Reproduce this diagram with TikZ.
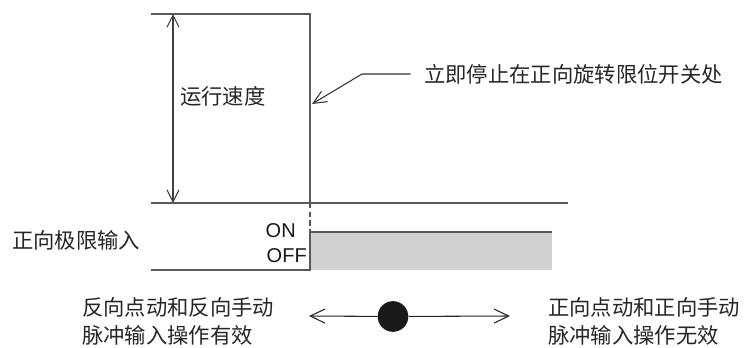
\documentclass[tikz,border=0pt]{standalone}
\usepackage{fontspec}
\setmainfont{Liberation Sans}
\newfontfamily\cjk{Noto Sans CJK SC}
\usetikzlibrary{arrows.meta, positioning, calc}

\begin{document}
\begin{tikzpicture}[x=0.75pt, y=-0.75pt,
    frame/.style={draw=black!65, line width=1.1pt},
    lbl/.style={font=\cjk\fontsize{16}{21}\selectfont, text=black!85, inner sep=0pt, align=left},
    state/.style={font=\fontsize{15}{18}\selectfont, text=black!90, inner sep=0pt},
    dimarr/.style={{Straight Barb[length=9pt,width=9pt]}-{Straight Barb[length=9pt,width=9pt]}, draw=black!75, line width=0.8pt},
    arr/.style={-{Straight Barb[length=10pt,width=9pt]}, draw=black!80, line width=0.8pt},
    dirarr/.style={-{Straight Barb[length=11pt,width=10.5pt]}, draw=black!85, line width=0.8pt}
]
\useasboundingbox (0,0) rectangle (744,347);

% speed profile
\coordinate (tl) at (151,14);
\coordinate (tr) at (310,14);
\coordinate (ml) at (151,203);
\coordinate (mr) at (568,203);
\coordinate (sw) at (310,203);
\draw[frame] (tl) -- (tr) -- (sw);
\draw[frame] (ml) -- (mr);
\coordinate (va) at (173,14);
\coordinate (vb) at (173,203);
\draw[dimarr] (va) -- (vb);
\node[lbl, anchor=west] (speed) at (180,96) {运行速度};

% stop note
\node[lbl, anchor=west] (note) at (424,74) {立即停止在正向旋转限位开关处};
\coordinate (bend) at (362,74);
\coordinate (hit) at (312,104);
\draw[arr] ([xshift=-10pt]note.west) -- (bend) -- (hit);

% limit input
\coordinate (on) at (310,232);
\coordinate (onr) at (552,232);
\coordinate (offl) at (151,270);
\coordinate (offr) at (310,270);
\coordinate (gr) at (552,270);
\fill[black!18] (on) rectangle (gr);
\draw[frame] (offl) -- (offr) -- (on) -- (onr);
\draw[frame, dash pattern=on 4pt off 2.5pt] (sw) -- (on);
\node[state, anchor=east] (onlbl) at (296,230.5) {ON};
\node[state, anchor=east] (offlbl) at (307,255.5) {OFF};
\node[lbl, anchor=west] (limit) at (12,240) {正向极限输入};

% jog direction
\node[circle, fill=black!90, inner sep=0pt, minimum size=23pt] (dot) at (393,316.5) {};
\coordinate (la) at (309,316);
\coordinate (ra) at (510,316);
\draw[dirarr] (dot) -- (la);
\draw[dirarr] (dot) -- (ra);
\node[lbl, anchor=west] (rev) at (82,321) {反向点动和反向手动\\脉冲输入操作有效};
\node[lbl, anchor=west] (fwd) at (548,321) {正向点动和正向手动\\脉冲输入操作无效};
\end{tikzpicture}
\end{document}
